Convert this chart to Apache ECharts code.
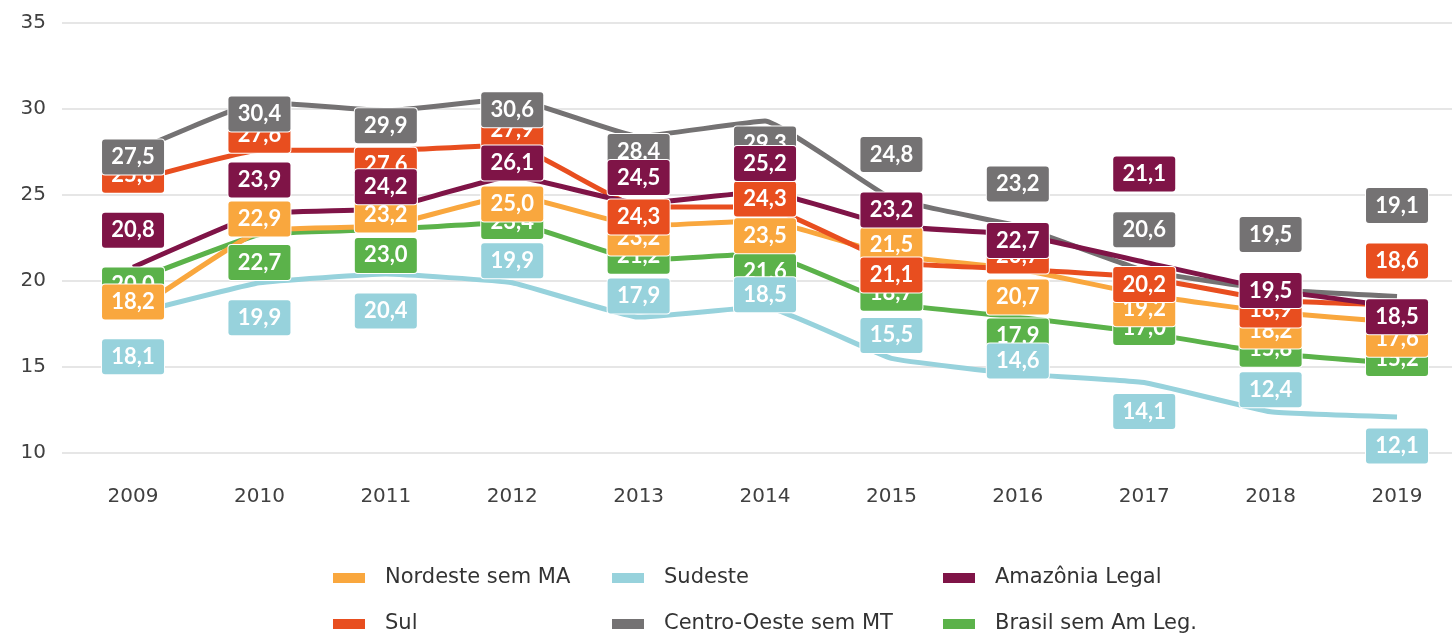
<!DOCTYPE html>
<html>
<head>
<meta charset="utf-8">
<script src="https://cdn.jsdelivr.net/npm/echarts@6/dist/echarts.min.js"></script>
<style>
  html, body { margin: 0; padding: 0; background: #fff; }
  #chart { width: 1452px; height: 638px; }
</style>
</head>
<body>
<div id="chart"></div>
<script>
// anos
var years = [2009, 2010, 2011, 2012, 2013, 2014, 2015, 2016, 2017, 2018, 2019];

// valores por região
var nordeste = [18.2, 22.9, 23.2, 25.0, 23.2, 23.5, 21.5, 20.7, 19.2, 18.2, 17.6];
var sudeste = [18.1, 19.9, 20.4, 19.9, 17.9, 18.5, 15.5, 14.6, 14.1, 12.4, 12.1];
var amazonia = [20.8, 23.9, 24.2, 26.1, 24.5, 25.2, 23.2, 22.7, 21.1, 19.5, 18.5];
var sul = [25.8, 27.6, 27.6, 27.9, 24.3, 24.3, 21.1, 20.7, 20.2, 18.9, 18.6];
var centroOeste = [27.5, 30.4, 29.9, 30.6, 28.4, 29.3, 24.8, 23.2, 20.6, 19.5, 19.1];
var brasil = [20.0, 22.7, 23.0, 23.4, 21.2, 21.6, 18.7, 17.9, 17.0, 15.8, 15.2];

// deslocamento vertical dos rótulos (px), só layout
var shiftNordeste = [-10, -12, -11, 9, 12, 15, -10, 28, 14, 19, 17];
var shiftSudeste = [43, 35, 37, -22, -21, -12, -23, -13, 29, -22, 29];
var shiftAmazonia = [-37, -34, -22, -13, -26, -28, -16, 6, -88, 1, 10];
var shiftSul = [-6, -15, 15, -15, 10, -8, 13, -13, 7, 10, -44];
var shiftCentro = [5, 12, 15, 11, 15, 23, -44, -42, -41, -55, -91];
var shiftBrasil = [4, 28, 26, -1, -4, 18, -10, 19, -5, -4, -5];

var font = 'Lato, "Noto Sans", sans-serif';
var textFont = '"DejaVu Sans", sans-serif';

// ordem de desenho (de baixo pra cima)
var regions = [
  { name: 'Brasil sem Am Leg.', values: brasil, shift: shiftBrasil, color: '#5BB24A' },
  { name: 'Nordeste sem MA', values: nordeste, shift: shiftNordeste, color: '#F9A73E' },
  { name: 'Sul', values: sul, shift: shiftSul, color: '#E84E1F' },
  { name: 'Centro-Oeste sem MT', values: centroOeste, shift: shiftCentro, color: '#747273' },
  { name: 'Amazônia Legal', values: amazonia, shift: shiftAmazonia, color: '#7F1447' },
  { name: 'Sudeste', values: sudeste, shift: shiftSudeste, color: '#97D2DC' }
];

function fmt(v) { return v.toFixed(1).replace('.', ','); }

var series = [];
regions.forEach(function (r) {
  series.push({
    name: r.name,
    type: 'line',
    z: 2,
    smooth: 0.1,
    symbol: 'none',
    lineStyle: { width: 5, color: r.color },
    itemStyle: { color: r.color },
    data: years.map(function (y, i) { return [y, r.values[i]]; })
  });
});
// rótulos em séries separadas para ficarem por cima de todas as linhas
regions.forEach(function (r) {
  series.push({
    name: r.name + ' (rótulo)',
    type: 'scatter',
    z: 5,
    symbolSize: 1,
    itemStyle: { color: 'rgba(0,0,0,0)', opacity: 1 },
    silent: true,
    data: years.map(function (y, i) {
      return {
        value: [y, r.values[i]],
        label: { offset: [0, r.shift[i]] }
      };
    }),
    label: {
      show: true,
      position: 'inside',
      formatter: function (p) { return fmt(p.value[1]); },
      color: '#fff',
      opacity: 1,
      fontFamily: font,
      fontSize: 22,
      fontWeight: 'bold',
      backgroundColor: r.color,
      borderColor: '#fff',
      borderWidth: 1,
      borderRadius: 3,
      width: 62,
      height: 35,
      lineHeight: 35,
      align: 'center',
      verticalAlign: 'middle',
      padding: 0
    }
  });
});

// legenda: um componente por item para alinhar em colunas
var legendPos = [
  { name: 'Nordeste sem MA', left: 333, top: 566 },
  { name: 'Sudeste', left: 612, top: 566 },
  { name: 'Amazônia Legal', left: 943, top: 566 },
  { name: 'Sul', left: 333, top: 612 },
  { name: 'Centro-Oeste sem MT', left: 612, top: 612 },
  { name: 'Brasil sem Am Leg.', left: 943, top: 612 }
];
var legends = legendPos.map(function (l) {
  return {
    left: l.left,
    top: l.top,
    padding: 0,
    itemWidth: 32,
    itemHeight: 10,
    icon: 'rect',
    data: [l.name],
    selectedMode: false,
    textStyle: {
      fontFamily: textFont,
      fontSize: 21,
      lineHeight: 24,
      color: '#333',
      padding: [0, 0, 0, 15]
    }
  };
});

var chart = echarts.init(document.getElementById('chart'));
chart.setOption({
  animation: false,
  grid: { left: 62, right: 0, top: 23, bottom: 185 },
  xAxis: {
    type: 'value',
    min: 2008.438,
    max: 2019.435,
    splitLine: { show: false },
    axisLine: { show: false },
    axisTick: { show: false },
    axisLabel: {
      customValues: years,
      margin: 34,
      fontFamily: textFont,
      fontSize: 20,
      color: '#404040',
      formatter: function (v) { return String(v); }
    }
  },
  yAxis: {
    type: 'value',
    min: 10,
    max: 35,
    interval: 5,
    axisLine: { show: false },
    axisTick: { show: false },
    splitLine: { lineStyle: { color: '#e6e6e6', width: 2 } },
    axisLabel: {
      margin: 16,
      fontFamily: textFont,
      fontSize: 20,
      color: '#404040'
    }
  },
  legend: legends,
  series: series
});
</script>
</body>
</html>
